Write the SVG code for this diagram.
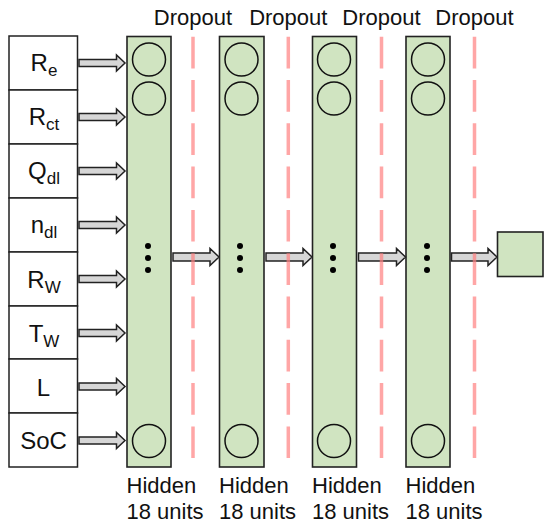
<svg xmlns="http://www.w3.org/2000/svg" width="550" height="529" viewBox="0 0 550 529">
<style>
text{font-family:"Liberation Sans",Arial,sans-serif;fill:#111}
.in{fill:#fff;stroke:#222;stroke-width:1.5}
.lbl{font-size:24px;text-anchor:middle}
.sub{font-size:17px}
.col{fill:#d0e4c1;stroke:#222;stroke-width:1.6}
.cir{fill:none;stroke:#111;stroke-width:1.5}
.dot{fill:#000}
.arr{fill:#d6d6d6;stroke:#222;stroke-width:1.5;stroke-linejoin:miter}
.drop{stroke:#ff8080;stroke-opacity:0.7;stroke-width:3.5;stroke-dasharray:31.7 11.6;fill:none}
.t{font-size:22px}
</style>
<g id="inputs">
<g id="in-Re"><rect class="in" x="9" y="36" width="68.5" height="54"/><text class="lbl" x="44" y="71">R<tspan class="sub" dy="5">e</tspan></text></g>
<g id="in-Rct"><rect class="in" x="9" y="90" width="68.5" height="54"/><text class="lbl" x="44" y="125">R<tspan class="sub" dy="5">ct</tspan></text></g>
<g id="in-Qdl"><rect class="in" x="9" y="144" width="68.5" height="54"/><text class="lbl" x="44" y="179">Q<tspan class="sub" dy="5">dl</tspan></text></g>
<g id="in-ndl"><rect class="in" x="9" y="198" width="68.5" height="54"/><text class="lbl" x="44" y="233">n<tspan class="sub" dy="5">dl</tspan></text></g>
<g id="in-RW"><rect class="in" x="9" y="252" width="68.5" height="54"/><text class="lbl" x="44" y="288">R<tspan class="sub" dy="5">W</tspan></text></g>
<g id="in-TW"><rect class="in" x="9" y="306" width="68.5" height="53"/><text class="lbl" x="44" y="342">T<tspan class="sub" dy="5">W</tspan></text></g>
<g id="in-L"><rect class="in" x="9" y="359" width="68.5" height="54"/><text class="lbl" x="43.5" y="396">L</text></g>
<g id="in-SoC"><rect class="in" x="9" y="413" width="68.5" height="54"/><text class="lbl" x="43.5" y="449">SoC</text></g>
</g>
<g id="hidden1">
<rect class="col" x="127" y="36.5" width="44" height="430.5"/>
<circle class="cir" cx="149" cy="59.5" r="16.5"/><circle class="cir" cx="149" cy="98.5" r="16.5"/><circle class="cir" cx="149" cy="441" r="16.5"/>
<circle class="dot" cx="148" cy="246" r="3"/><circle class="dot" cx="148" cy="258" r="3"/><circle class="dot" cx="148" cy="270" r="3"/>
<text class="t" x="126.5" y="493">Hidden</text><text class="t" x="126.5" y="519">18 units</text>
</g>
<g id="hidden2">
<rect class="col" x="219.5" y="36.5" width="44.5" height="430.5"/>
<circle class="cir" cx="241.5" cy="59.5" r="16.5"/><circle class="cir" cx="241.5" cy="98.5" r="16.5"/><circle class="cir" cx="241.5" cy="441" r="16.5"/>
<circle class="dot" cx="240" cy="246" r="3"/><circle class="dot" cx="240" cy="258" r="3"/><circle class="dot" cx="240" cy="270" r="3"/>
<text class="t" x="219" y="493">Hidden</text><text class="t" x="219" y="519">18 units</text>
</g>
<g id="hidden3">
<rect class="col" x="312.5" y="36.5" width="44" height="430.5"/>
<circle class="cir" cx="334" cy="59.5" r="16.5"/><circle class="cir" cx="334" cy="98.5" r="16.5"/><circle class="cir" cx="334" cy="441" r="16.5"/>
<circle class="dot" cx="333" cy="246" r="3"/><circle class="dot" cx="333" cy="258" r="3"/><circle class="dot" cx="333" cy="270" r="3"/>
<text class="t" x="312" y="493">Hidden</text><text class="t" x="312" y="519">18 units</text>
</g>
<g id="hidden4">
<rect class="col" x="406" y="36.5" width="44" height="430.5"/>
<circle class="cir" cx="428" cy="59.5" r="16.5"/><circle class="cir" cx="428" cy="98.5" r="16.5"/><circle class="cir" cx="428" cy="441" r="16.5"/>
<circle class="dot" cx="427" cy="246" r="3"/><circle class="dot" cx="427" cy="258" r="3"/><circle class="dot" cx="427" cy="270" r="3"/>
<text class="t" x="405.5" y="493">Hidden</text><text class="t" x="405.5" y="519">18 units</text>
</g>
<g id="output"><rect class="col" x="497.5" y="232" width="45.5" height="44.5"/></g>
<g id="connectors">
<path class="arr" d="M79,59.5H116.5V55L125,63L116.5,71V66.5H79Z"/>
<path class="arr" d="M79,113.5H116.5V109L125,117L116.5,125V120.5H79Z"/>
<path class="arr" d="M79,167.5H116.5V163L125,171L116.5,179V174.5H79Z"/>
<path class="arr" d="M79,221.5H116.5V217L125,225L116.5,233V228.5H79Z"/>
<path class="arr" d="M79,275.5H116.5V271L125,279L116.5,287V282.5H79Z"/>
<path class="arr" d="M79,329.5H116.5V325L125,333L116.5,341V336.5H79Z"/>
<path class="arr" d="M79,383H116.5V378.5L125,386.5L116.5,394.5V390H79Z"/>
<path class="arr" d="M79,437H116.5V432.5L125,440.5L116.5,448.5V444H79Z"/>
<path class="arr" d="M173,253H210V248.5L219,257L210,265.5V261H173Z"/>
<path class="arr" d="M266,253H303V248.5L312,257L303,265.5V261H266Z"/>
<path class="arr" d="M358.5,253H396.5V248.5L405.5,257L396.5,265.5V261H358.5Z"/>
<path class="arr" d="M451.5,253H488V248.5L497,257L488,265.5V261H451.5Z"/>
</g>
<g id="dropout">
<line class="drop" x1="193" y1="36.7" x2="193" y2="459"/>
<line class="drop" x1="288.3" y1="36.7" x2="288.3" y2="459"/>
<line class="drop" x1="381.5" y1="36.7" x2="381.5" y2="459"/>
<line class="drop" x1="474.5" y1="36.7" x2="474.5" y2="459"/>
<text class="t" x="193" y="25" text-anchor="middle">Dropout</text>
<text class="t" x="288.3" y="25" text-anchor="middle">Dropout</text>
<text class="t" x="381.5" y="25" text-anchor="middle">Dropout</text>
<text class="t" x="474.5" y="25" text-anchor="middle">Dropout</text>
</g>
</svg>
